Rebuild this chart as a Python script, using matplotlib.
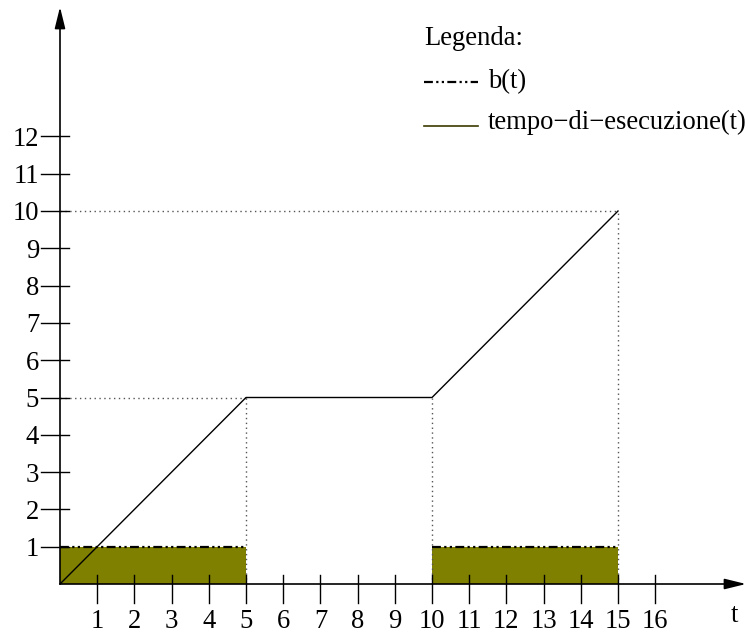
import matplotlib
matplotlib.use("Agg")
import matplotlib.pyplot as plt

# Data
t_points = [0, 5, 10, 15]
exec_values = [0, 5, 5, 10]
b_intervals = [(0, 5), (10, 15)]
b_value = 1
x_ticks = list(range(1, 17))
y_ticks = list(range(1, 13))
guide_x = [(5, 5), (10, 5), (15, 10)]
guide_y = [(5, 5), (10, 15)]
legend_title = "Legenda:"
legend_labels = ["b(t)", "tempo\u2212di\u2212esecuzione(t)"]
x_label = "t"

FONT = "Liberation Serif"
FS = 19.2
OLIVE = "#808000"

W, H = 750, 635
fig = plt.figure(figsize=(W / 100, H / 100), dpi=100)
ax = fig.add_axes([0, 0, 1, 1])
ux, uy = 37.2, 37.3
ox, oy = 60, 584
ax.set_xlim(-ox / ux, (W - ox) / ux)
ax.set_ylim(-(H - oy) / uy, oy / uy)
ax.axis("off")

def px(xp):
    return (xp - ox) / ux

def py(yp):
    return (oy - yp) / uy

# filled b(t) blocks
for a, b in b_intervals:
    ax.fill_between([a, b], 0, b_value, color=OLIVE, lw=0, zorder=1)
    ax.plot([a, b], [b_value, b_value], color="black", lw=1.6,
            dashes=(4, 1.5, 1, 1.5, 1, 1.5), zorder=3)

# dotted guides
for x, top in guide_x:
    ax.plot([x, x], [0, top], color="#555555", lw=1, ls=(0, (1, 2.5)), zorder=2)
for y, right in guide_y:
    ax.plot([0, right], [y, y], color="#555555", lw=1, ls=(0, (1, 2.5)), zorder=2)

# execution time line
ax.plot(t_points, exec_values, color="black", lw=1, zorder=4)

# axes with arrows
ax.annotate("", xy=(px(746), 0), xytext=(0, 0),
            arrowprops=dict(arrowstyle="-|>,head_length=1.3,head_width=0.32",
                            color="black", lw=1.2, shrinkA=0, shrinkB=0), zorder=5)
ax.annotate("", xy=(0, py(7)), xytext=(0, 0),
            arrowprops=dict(arrowstyle="-|>,head_length=1.3,head_width=0.32",
                            color="black", lw=1.2, shrinkA=0, shrinkB=0), zorder=5)

# ticks
for x in x_ticks:
    ax.plot([x, x], [py(575), py(603)], color="black", lw=1, zorder=5)
    ax.text(x, py(628), str(x), ha="center", va="baseline", fontsize=FS, family=FONT)
for y in y_ticks:
    ax.plot([px(41), px(69)], [y, y], color="black", lw=1, zorder=5)
    ax.text(px(39), y - 9.5 / uy, str(y), ha="right", va="baseline",
            fontsize=FS, family=FONT)

ax.text(px(734), py(622), x_label, ha="center", va="baseline", fontsize=FS, family=FONT)

# legend
ax.text(px(424), py(45), legend_title, ha="left", va="baseline", fontsize=FS, family=FONT)
ax.plot([px(424), px(478)], [py(82), py(82)], color="black", lw=1.6,
        dashes=(4, 1.5, 1, 1.5, 1, 1.5))
ax.text(px(488), py(88), legend_labels[0], ha="left", va="baseline", fontsize=FS, family=FONT)
ax.plot([px(424), px(478)], [py(126), py(126)], color="#3a3a00", lw=1.2)
ax.text(px(488), py(129), legend_labels[1], ha="left", va="baseline", fontsize=FS, family=FONT)

fig.savefig("out.png", dpi=100, facecolor="white")
